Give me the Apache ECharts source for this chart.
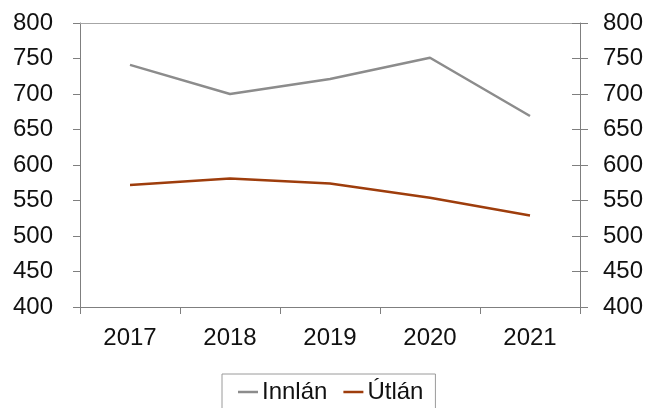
<!DOCTYPE html>
<html><head><meta charset="utf-8">
<script src="https://cdn.jsdelivr.net/npm/echarts@6/dist/echarts.min.js"></script>
<style>html,body{margin:0;padding:0;background:#fff}#c{width:651px;height:408px}</style>
</head><body><div id="c"></div>
<script>
const categories = ['2017','2018','2019','2020','2021'];
const innlan = [741, 700, 721, 751, 669];
const utlan = [572, 581, 574, 554, 529];
const yTicks = {min: 400, max: 800, interval: 50};

const font = 'Liberation Sans, Arial, sans-serif';
const axisColor = '#7f7f7f';
const chart = echarts.init(document.getElementById('c'), null, {renderer: 'canvas'});
chart.setOption({
  animation: false,
  textStyle: {fontFamily: font},
  grid: {left: 80, right: 71, top: 23, bottom: 101, containLabel: false},
  xAxis: [{
    type: 'category', data: categories, boundaryGap: true,
    axisLine: {lineStyle: {color: axisColor, width: 1}},
    axisTick: {show: true, length: 7, inside: false, lineStyle: {color: axisColor}},
    axisLabel: {color: '#111', fontSize: 24, margin: 19, fontFamily: font},
    splitLine: {show: false}
  }, {
    type: 'category', data: categories, position: 'top',
    axisLine: {show: true, lineStyle: {color: '#a6a6a6', width: 1}},
    axisTick: {show: false}, axisLabel: {show: false}, splitLine: {show: false}
  }],
  yAxis: [{
    type: 'value', min: yTicks.min, max: yTicks.max, interval: yTicks.interval, position: 'left',
    axisLine: {show: true, lineStyle: {color: axisColor}},
    axisTick: {show: true, length: 7, lineStyle: {color: axisColor}},
    axisLabel: {color: '#111', fontSize: 24, margin: 27, fontFamily: font},
    splitLine: {show: false}
  }, {
    type: 'value', min: yTicks.min, max: yTicks.max, interval: yTicks.interval, position: 'right',
    axisLine: {show: true, lineStyle: {color: axisColor}},
    axisTick: {show: true, length: 8, inside: true, lineStyle: {color: axisColor}},
    axisLabel: {color: '#111', fontSize: 24, margin: 23, fontFamily: font},
    splitLine: {show: false}
  }, {
    type: 'value', min: yTicks.min, max: yTicks.max, interval: yTicks.interval, position: 'right',
    axisLine: {show: false},
    axisTick: {show: true, length: 8, inside: false, lineStyle: {color: axisColor}},
    axisLabel: {show: false},
    splitLine: {show: false}
  }],
  legend: {
    top: 374, left: 222,
    data: ['Innlán', 'Útlán'],
    icon: 'rect', itemWidth: 20, itemHeight: 2.5, itemGap: 16,
    borderColor: '#9a9a9a', borderWidth: 1, borderRadius: 0,
    padding: [6, 12, 16, 16],
    textStyle: {fontSize: 24, color: '#111', fontFamily: font, padding: [0, 0, 0, -1]}
  },
  series: [{
    name: 'Innlán', type: 'line', data: innlan, symbol: 'none',
    lineStyle: {color: '#8c8c8c', width: 2.5}, itemStyle: {color: '#8c8c8c'}
  }, {
    name: 'Útlán', type: 'line', data: utlan, symbol: 'none',
    lineStyle: {color: '#9e3d0c', width: 2.5}, itemStyle: {color: '#9e3d0c'}
  }]
});
</script></body></html>
